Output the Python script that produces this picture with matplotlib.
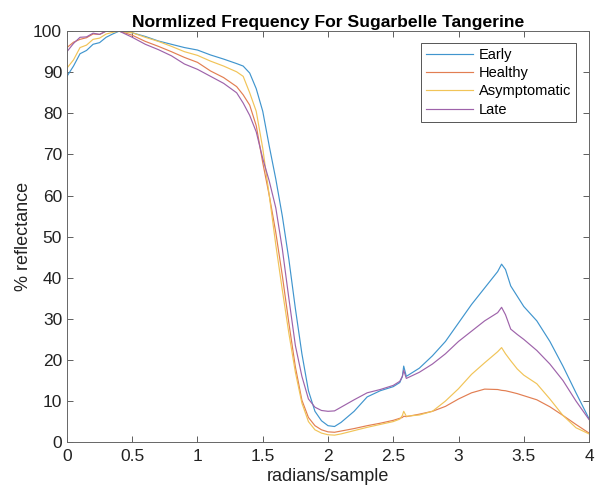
import matplotlib
matplotlib.use("Agg")
import matplotlib.pyplot as plt

plt.rcParams['font.family'] = ['Liberation Sans', 'DejaVu Sans']

# x positions (radians/sample)
x = [0, 0.05, 0.1, 0.15, 0.2, 0.25, 0.3, 0.35, 0.4, 0.5, 0.6, 0.7, 0.8, 0.9,
     1.0, 1.1, 1.2, 1.3, 1.35, 1.4, 1.45, 1.5, 1.55, 1.6, 1.65, 1.7, 1.75,
     1.8, 1.85, 1.9, 1.95, 2.0, 2.05, 2.1, 2.2, 2.3, 2.4, 2.5, 2.55, 2.57,
     2.58, 2.6, 2.7, 2.8, 2.9, 3.0, 3.1, 3.2, 3.3, 3.33, 3.36, 3.4, 3.45,
     3.5, 3.6, 3.7, 3.8, 3.9, 4.0]

early = [89, 91.5, 94.5, 95.3, 96.8, 97.2, 98.5, 99.3, 100, 99.6, 98.7, 97.6,
         96.8, 96, 95.4, 94.2, 93.2, 92.1, 91.5, 89.8, 86, 80.5, 72, 64, 55,
         44.5, 32.5, 21.5, 12.5, 7.5, 5.2, 4, 3.8, 4.8, 7.5, 11, 12.5, 13.5,
         14.5, 16, 18.5, 16, 18, 21, 24.5, 29, 33.5, 37.5, 41.5, 43.3, 42, 38,
         35.5, 33, 29.5, 24.5, 18.5, 12, 5.7]

healthy = [96, 97.3, 98, 98.4, 99.3, 99.2, 100, 100, 100, 99, 97.5, 96.3,
           95, 93.6, 92.4, 90.3, 88.7, 86.5, 84.5, 82, 77, 68, 60, 51, 40.5,
           29, 18.3, 10.2, 6, 4, 3, 2.5, 2.4, 2.7, 3.3, 4, 4.6, 5.3, 5.8, 6,
           6.3, 6.2, 6.8, 7.5, 8.7, 10.5, 12, 12.9, 12.8, 12.6, 12.5, 12.2,
           11.8, 11.3, 10.3, 8.6, 6.5, 4.3, 2.2]

asymptomatic = [91, 93, 96, 96.6, 98, 98.3, 99.3, 99.7, 100, 99.6, 98.5,
                97.5, 96.3, 95, 94.1, 92.7, 91.5, 90.1, 89, 85, 80.5, 71.5,
                60, 48, 37, 26.5, 17, 9.5, 5, 3, 2.2, 1.8, 1.7, 2, 2.8, 3.6,
                4.3, 5, 5.6, 6.5, 7.5, 6.3, 6.6, 7.5, 10, 13, 16.5, 19.3, 22,
                23, 21.5, 19.8, 17.8, 16.3, 14.2, 10.5, 6.5, 3.5, 2]

late = [95, 97, 98.5, 98.6, 99.5, 99.2, 100, 100, 100, 98.5, 96.8, 95.5, 94,
        92, 90.7, 89, 87.3, 85, 82.5, 79.5, 75.5, 69, 63.5, 57, 47, 35, 23.5,
        16, 10.5, 8.5, 7.7, 7.5, 7.6, 8.5, 10.3, 12, 12.8, 13.8, 14.8, 16,
        17.5, 15.5, 17, 19, 21.5, 24.5, 27, 29.5, 31.5, 32.8, 31, 27.5, 26.2,
        25, 22.3, 19, 15, 10, 5.5]

# matlab default colours, a bit washed out like the scan
series = [("Early", early, "#4095CE"),
          ("Healthy", healthy, "#E27E52"),
          ("Asymptomatic", asymptomatic, "#F1C458"),
          ("Late", late, "#9E63AA")]

fig = plt.figure(figsize=(5.98, 4.94), dpi=100)
ax = fig.add_axes([0.112, 0.105, 0.873, 0.832])

for name, vals, col in series:
    ax.plot(x, vals, color=col, lw=0.85, label=name)

ax.set_xlim(0, 4)
ax.set_ylim(0, 100)
ax.set_xticks([0, 0.5, 1, 1.5, 2, 2.5, 3, 3.5, 4])
ax.set_xticklabels(["0", "0.5", "1", "1.5", "2", "2.5", "3", "3.5", "4"])
ax.set_yticks(range(0, 101, 10))
ax.tick_params(direction='in', top=True, right=True, length=4, width=0.6,
               colors='#444444', labelsize=12.5, labelcolor='#222222')
ax.tick_params(axis='x', pad=5)
for s in ax.spines.values():
    s.set_color('#666666')
    s.set_linewidth(0.7)

ax.set_title("Normlized Frequency For Sugarbelle Tangerine", fontsize=12.6,
             fontweight='bold', pad=3)
ax.set_xlabel("radians/sample", fontsize=13, color='#222222', labelpad=3)
ax.set_ylabel("% reflectance", fontsize=13, color='#222222', labelpad=1)

leg = ax.legend(loc='upper right', bbox_to_anchor=(0.975, 0.972),
                borderaxespad=0, fancybox=False, framealpha=1,
                edgecolor='#555555', fontsize=10.5, handlelength=3.2,
                labelspacing=0.3, borderpad=0.35, handletextpad=0.4)
leg.get_frame().set_linewidth(0.7)

fig.savefig("out.png", dpi=100)
